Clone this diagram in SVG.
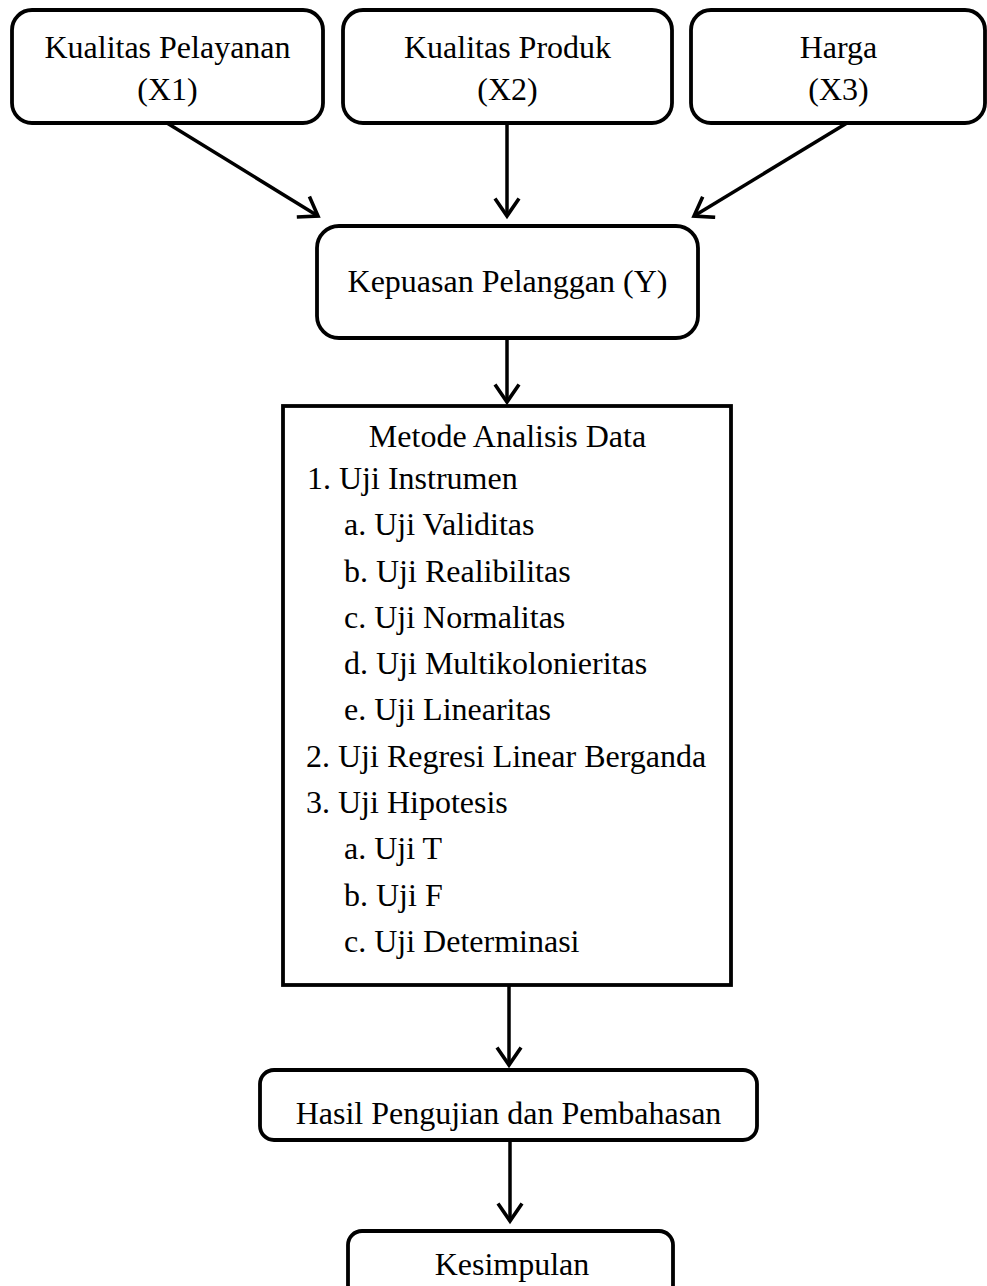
<svg xmlns="http://www.w3.org/2000/svg" width="987" height="1286" viewBox="0 0 987 1286">
<style>
.box{fill:#fff;stroke:#000;stroke-width:3.8}
.t{font-family:"Liberation Serif","Times New Roman",serif;font-size:32px;fill:#000}
.c{text-anchor:middle}
.edge{stroke:#000;stroke-width:3.5;fill:none;marker-end:url(#arr)}
</style>
<defs>
<marker id="arr" markerUnits="userSpaceOnUse" markerWidth="30" markerHeight="30" viewBox="-20 -15 25 30" refX="0" refY="0" orient="auto">
<path d="M-16,-11 L0,0 L-16,11" fill="none" stroke="#000" stroke-width="3.6" stroke-linecap="square"/>
</marker>
</defs>
<rect width="987" height="1286" fill="#fff"/>
<g id="connectors">
<line class="edge" x1="167" y1="123" x2="318" y2="216"/>
<line class="edge" x1="507" y1="123" x2="507" y2="216"/>
<line class="edge" x1="847" y1="123" x2="694" y2="216"/>
<line class="edge" x1="507" y1="338" x2="507" y2="402"/>
<line class="edge" x1="509" y1="985" x2="509" y2="1065"/>
<line class="edge" x1="510" y1="1140" x2="510" y2="1221"/>
</g>
<g id="x1">
<rect class="box" x="12" y="10" width="311" height="113" rx="20"/>
<text class="t c" x="167.5" y="58">Kualitas Pelayanan</text>
<text class="t c" x="167.5" y="100">(X1)</text>
</g>
<g id="x2">
<rect class="box" x="343" y="10" width="329" height="113" rx="20"/>
<text class="t c" x="507.5" y="58">Kualitas Produk</text>
<text class="t c" x="507.5" y="100">(X2)</text>
</g>
<g id="x3">
<rect class="box" x="691" y="10" width="294" height="113" rx="20"/>
<text class="t c" x="838.5" y="58">Harga</text>
<text class="t c" x="838.5" y="100">(X3)</text>
</g>
<g id="y">
<rect class="box" x="317" y="226" width="381" height="112" rx="22"/>
<text class="t c" x="507.5" y="292">Kepuasan Pelanggan (Y)</text>
</g>
<g id="metode">
<rect class="box" x="283" y="406" width="448" height="579"/>
<text class="t c" x="507.5" y="447">Metode Analisis Data</text>
<text class="t" x="307" y="489">1. Uji Instrumen</text>
<text class="t" x="344" y="535">a. Uji Validitas</text>
<text class="t" x="344" y="582">b. Uji Realibilitas</text>
<text class="t" x="344" y="628">c. Uji Normalitas</text>
<text class="t" x="344" y="674">d. Uji Multikolonieritas</text>
<text class="t" x="344" y="720">e. Uji Linearitas</text>
<text class="t" x="306" y="767">2. Uji Regresi Linear Berganda</text>
<text class="t" x="306" y="813">3. Uji Hipotesis</text>
<text class="t" x="344" y="859">a. Uji T</text>
<text class="t" x="344" y="906">b. Uji F</text>
<text class="t" x="344" y="952">c. Uji Determinasi</text>
</g>
<g id="hasil">
<rect class="box" x="260" y="1070" width="497" height="70" rx="14"/>
<text class="t c" x="508.5" y="1124">Hasil Pengujian dan Pembahasan</text>
</g>
<g id="kesimpulan">
<rect class="box" x="348" y="1231" width="325" height="90" rx="14"/>
<text class="t c" x="512" y="1275">Kesimpulan</text>
</g>
</svg>
